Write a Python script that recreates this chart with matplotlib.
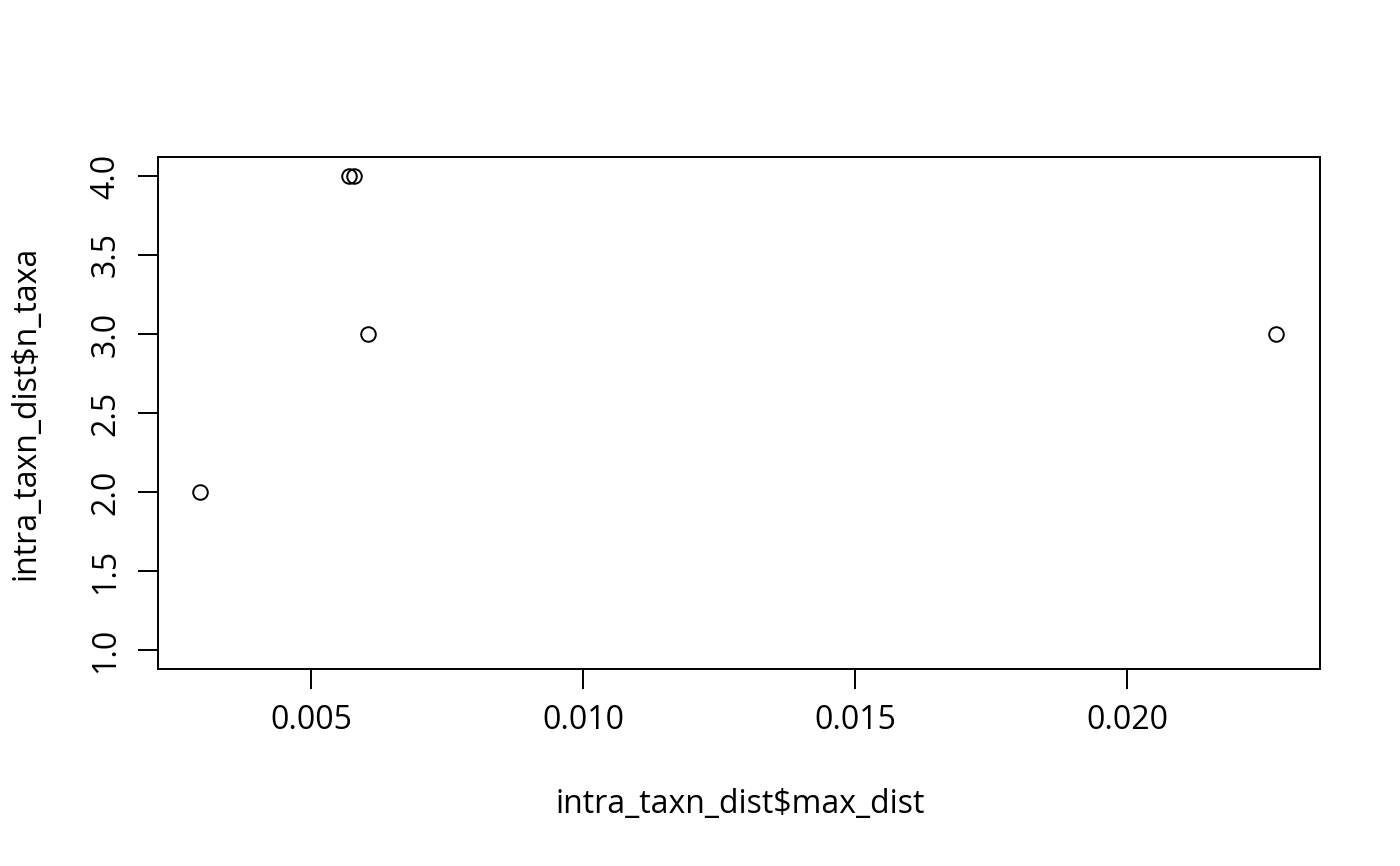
import matplotlib
matplotlib.use("Agg")
import matplotlib.pyplot as plt

max_dist = [0.00296, 0.0057, 0.0058, 0.00605, 0.02274]
n_taxa = [2, 4, 4, 3, 3]
x_ticks = [0.005, 0.010, 0.015, 0.020]
x_tick_labels = ["0.005", "0.010", "0.015", "0.020"]
y_ticks = [1.0, 1.5, 2.0, 2.5, 3.0, 3.5, 4.0]
y_tick_labels = ["1.0", "1.5", "2.0", "2.5", "3.0", "3.5", "4.0"]

plt.rcParams['font.family'] = ['Open Sans', 'DejaVu Sans']
fig = plt.figure(figsize=(14, 8.66), dpi=100)
ax = fig.add_axes([158/1400, 1-669/866, 1162/1400, 512/866])

ax.plot(max_dist, n_taxa, linestyle='none', marker='o', markersize=10.5,
        markerfacecolor='none', markeredgecolor='black', markeredgewidth=1.4)

ax.set_xlim(0.002188, 0.023548)
ax.set_ylim(0.88, 4.12)
ax.set_xticks(x_ticks)
ax.set_xticklabels(x_tick_labels)
ax.set_yticks(y_ticks)
ax.set_yticklabels(y_tick_labels, rotation=90, va='center')
ax.tick_params(axis='both', length=14.5, width=1.4, labelsize=23, pad=11, color='black')
for s in ax.spines.values():
    s.set_linewidth(1.4)

fig.text(740/1400, 1-805/866, "intra_taxn_dist$max_dist", ha='center', va='center', fontsize=23)
fig.text(26/1400, 1-413/866, "intra_taxn_dist$n_taxa", ha='center', va='center', fontsize=23, rotation=90)

fig.savefig("out.png", dpi=100)
